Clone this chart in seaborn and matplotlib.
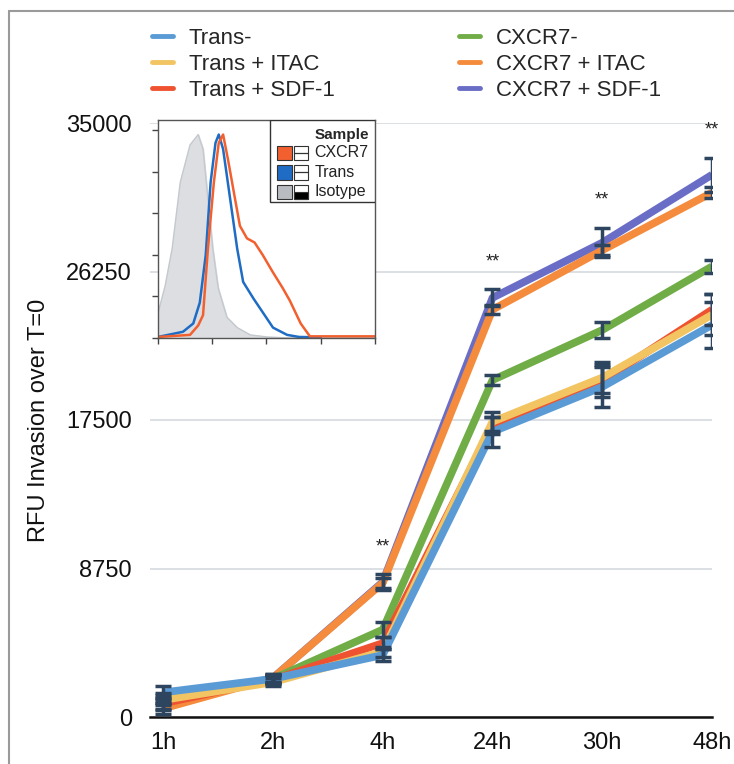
import numpy as np
import pandas as pd
import matplotlib
matplotlib.use("Agg")
import matplotlib.pyplot as plt
import seaborn as sns
from matplotlib.patches import Rectangle
from matplotlib.lines import Line2D
from matplotlib.ticker import MultipleLocator, LogLocator, NullFormatter

sns.set_style("white")
plt.rcParams['font.family'] = ['Liberation Sans', 'DejaVu Sans']

# invasion time course
hours = ['1h', '2h', '4h', '24h', '30h', '48h']
groups = ['Trans-', 'Trans + ITAC', 'Trans + SDF-1',
          'CXCR7-', 'CXCR7 + ITAC', 'CXCR7 + SDF-1']

trans_neg = [1450, 2250, 3650, 16800, 19450, 23100]
trans_itac = [1000, 2050, 3850, 17400, 20000, 23700]
trans_sdf = [800, 2200, 4350, 17200, 19800, 24000]
cxcr7_neg = [1100, 2250, 5150, 19850, 22800, 26550]
cxcr7_itac = [500, 2300, 7900, 24000, 27500, 30900]
cxcr7_sdf = [700, 2300, 7950, 24700, 27950, 31950]

trans_neg_err = [350, 250, 350, 900, 1200, 1350]
trans_itac_err = [300, 250, 300, 550, 900, 1200]
trans_sdf_err = [300, 250, 350, 500, 950, 900]
cxcr7_neg_err = [300, 250, 450, 300, 470, 400]
cxcr7_itac_err = [300, 250, 300, 250, 300, 300]
cxcr7_sdf_err = [300, 250, 450, 500, 850, 1000]

sig_hours = ['4h', '24h', '30h', '48h']

colors = {'Trans-': '#5b9bd5', 'Trans + ITAC': '#f2c462', 'Trans + SDF-1': '#ef5230',
          'CXCR7-': '#70ad47', 'CXCR7 + ITAC': '#f58b3c', 'CXCR7 + SDF-1': '#6a6dc6'}

# flow cytometry histogram (log10 fluorescence, % of max)
iso_x = [1.00, 1.13, 1.26, 1.41, 1.59, 1.74, 1.83, 1.92, 2.01, 2.11, 2.27, 2.46, 2.70, 3.01, 3.43, 5.00]
iso_y = [12, 25, 43, 75, 93, 98, 91, 67, 43, 24, 10, 5, 1.5, 0.5, 0, 0]
trans_x = [1.00, 1.46, 1.65, 1.77, 1.88, 1.97, 2.06, 2.12, 2.20, 2.33, 2.46, 2.57, 2.76, 2.94, 3.12, 3.38, 3.60, 4.00]
trans_y = [0.5, 3, 7, 17, 40, 75, 94, 98, 91, 67, 43, 27, 19, 12, 5, 1.5, 0.5, 0.3]
cxcr7_x = [1.00, 1.59, 1.74, 1.83, 1.92, 2.03, 2.12, 2.20, 2.29, 2.42, 2.51, 2.64, 2.78, 2.93, 3.11, 3.30, 3.43, 3.63, 3.80, 5.00]
cxcr7_y = [0.5, 1.5, 6, 11, 43, 75, 94, 98, 86, 67, 54, 48, 46, 40, 32, 24, 18, 7, 0.8, 0.8]

values = [trans_neg, trans_itac, trans_sdf, cxcr7_neg, cxcr7_itac, cxcr7_sdf]
errors = [trans_neg_err, trans_itac_err, trans_sdf_err, cxcr7_neg_err, cxcr7_itac_err, cxcr7_sdf_err]

rows = []
for g, v in zip(groups, values):
    for i, h in enumerate(hours):
        rows.append({'group': g, 'pos': i, 'value': v[i]})
df = pd.DataFrame(rows)

fig = plt.figure(figsize=(7.34, 7.64), dpi=100)
ax = fig.add_axes([150/734, 47/764, 562/734, 594/764])

draw_order = ['CXCR7 + SDF-1', 'CXCR7 + ITAC', 'CXCR7-', 'Trans + SDF-1', 'Trans + ITAC', 'Trans-']
for g in draw_order:
    sns.lineplot(data=df[df['group'] == g], x='pos', y='value', color=colors[g],
                 lw=5.5, ax=ax, sort=False, legend=False, solid_capstyle='butt')

for v, e in zip(values, errors):
    ax.errorbar(range(len(hours)), v, yerr=e, fmt='none', ecolor='#2e4560',
                elinewidth=2.5, capsize=6, capthick=2.5, zorder=5)

top_vals = [max(v[i] + e[i] for v, e in zip(values, errors)) for i in range(len(hours))]
for h in sig_hours:
    i = hours.index(h)
    ax.annotate('**', (i, top_vals[i]), xytext=(0, 20), textcoords='offset points',
                ha='center', va='center', fontsize=13, color='#222222')

ax.set_xlim(-0.12, 5)
ax.set_ylim(0, 35000)
ax.set_xticks(range(len(hours)))
ax.set_xticklabels(hours)
ax.set_yticks([0, 8750, 17500, 26250, 35000])
ax.set_yticklabels(['0', '8750', '17500', '26250', '35000'])
ax.tick_params(axis='both', length=0, labelsize=17, colors='#111111')
ax.tick_params(axis='x', pad=11)
ax.tick_params(axis='y', pad=13)
ax.grid(axis='y', color='#d5d9de', lw=1.2)
ax.grid(axis='x', visible=False)
for s in ['top', 'right', 'left']:
    ax.spines[s].set_visible(False)
ax.spines['bottom'].set_color('#111111')
ax.spines['bottom'].set_linewidth(1.8)
ax.set_xlabel('')
ax.set_ylabel('RFU Invasion over T=0', fontsize=17, color='#111111')
ax.yaxis.set_label_coords(-0.178, 0.5)

handles = [Line2D([0], [0], color=colors[g], lw=3.5) for g in groups]
fig.legend(handles, groups, ncol=2, frameon=False,
           loc='upper left', bbox_to_anchor=(152/734, 1 - 28/764), fontsize=16,
           handlelength=0.95, handletextpad=0.7, columnspacing=5.6,
           labelspacing=0.22, borderpad=0, borderaxespad=0)

# inset histogram
ax_in = fig.add_axes([158/734, (764-338)/764, 217/734, 218/764])
ax_in.fill_between(10 ** np.array(iso_x), iso_y, color='#dcdee1', zorder=1)
ax_in.plot(10 ** np.array(iso_x), iso_y, color='#c4c9cf', lw=1, zorder=2)
sns.lineplot(x=10 ** np.array(trans_x), y=trans_y, color='#1f6cc4', lw=1.8, ax=ax_in, sort=False)
sns.lineplot(x=10 ** np.array(cxcr7_x), y=cxcr7_y, color='#f3602f', lw=1.8, ax=ax_in, sort=False)
ax_in.set_xscale('log')
ax_in.set_xlim(10, 1e5)
ax_in.set_ylim(0, 105)
ax_in.yaxis.set_major_locator(MultipleLocator(20))
ax_in.yaxis.set_minor_locator(MultipleLocator(10))
ax_in.xaxis.set_major_locator(LogLocator(base=10))
ax_in.xaxis.set_minor_locator(LogLocator(base=10, subs=np.arange(2, 10)))
ax_in.xaxis.set_major_formatter(NullFormatter())
ax_in.xaxis.set_minor_formatter(NullFormatter())
ax_in.yaxis.set_major_formatter(NullFormatter())
ax_in.tick_params(which='major', direction='out', length=4, width=1, color='#444444')
ax_in.tick_params(which='minor', direction='out', length=2.5, width=0.8, color='#444444')
ax_in.tick_params(bottom=True, left=True)
for s in ax_in.spines.values():
    s.set_color('#555555')
    s.set_linewidth(1)
ax_in.set_xlabel('')
ax_in.set_ylabel('')

# inset legend table
ax_in.add_patch(Rectangle((0.516, 0.624), 0.484, 0.376, transform=ax_in.transAxes,
                          facecolor='white', edgecolor='#333333', lw=1, zorder=6))
ax_in.text(0.848, 0.931, 'Sample', transform=ax_in.transAxes, ha='center', va='center',
           fontsize=11, fontweight='bold', zorder=7)
leg_rows = [('CXCR7', '#f3602f', 0.849), ('Trans', '#1f6cc4', 0.761), ('Isotype', '#b9bcc0', 0.670)]
for name, c, yy in leg_rows:
    ax_in.add_patch(Rectangle((0.548, yy - 0.034), 0.068, 0.068, transform=ax_in.transAxes,
                              facecolor=c, edgecolor='#333333', lw=0.8, zorder=7))
    ax_in.add_patch(Rectangle((0.627, yy - 0.034), 0.064, 0.068, transform=ax_in.transAxes,
                              facecolor='white', edgecolor='#333333', lw=0.8, zorder=7))
    if name == 'Isotype':
        ax_in.add_patch(Rectangle((0.627, yy - 0.034), 0.064, 0.034, transform=ax_in.transAxes,
                                  facecolor='black', edgecolor='#333333', lw=0.8, zorder=8))
    else:
        ax_in.plot([0.627, 0.691], [yy, yy], transform=ax_in.transAxes, color='#333333',
                   lw=0.9, zorder=8)
    ax_in.text(0.722, yy, name, transform=ax_in.transAxes, ha='left', va='center',
               fontsize=11.5, color='#222222', zorder=7)

# outer frame
fig.add_artist(Line2D([9/734, 9/734], [-0.1, 1 - 11/764], transform=fig.transFigure,
                      color='#9a9a9a', lw=1.5))
fig.add_artist(Line2D([9/734, 1.1], [1 - 11/764, 1 - 11/764], transform=fig.transFigure,
                      color='#9a9a9a', lw=1.5))

fig.savefig('out.png', dpi=100, facecolor='white')
